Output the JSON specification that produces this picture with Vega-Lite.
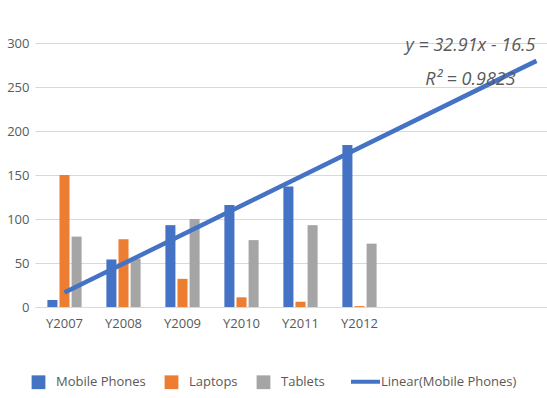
{
  "$schema": "https://vega.github.io/schema/vega-lite/v6.json",
  "autosize": {"type": "none"},
  "padding": {"left": 35, "top": 43, "right": 0, "bottom": 91},
  "width": 531,
  "height": 264,
  "background": "white",
  "config": {
    "view": {"stroke": null},
    "font": "Open Sans",
    "axis": {"labelFont": "Open Sans", "labelFontSize": 13, "labelColor": "#595959", "ticks": false, "domain": false, "gridColor": "#D9D9D9", "gridWidth": 1, "title": null}
  },
  "datasets": {
    "bars": [
      {"year": "Y2007", "series": "Mobile Phones", "value": 8},
      {"year": "Y2007", "series": "Laptops", "value": 150},
      {"year": "Y2007", "series": "Tablets", "value": 80},
      {"year": "Y2008", "series": "Mobile Phones", "value": 54},
      {"year": "Y2008", "series": "Laptops", "value": 77},
      {"year": "Y2008", "series": "Tablets", "value": 55},
      {"year": "Y2009", "series": "Mobile Phones", "value": 93},
      {"year": "Y2009", "series": "Laptops", "value": 32},
      {"year": "Y2009", "series": "Tablets", "value": 100},
      {"year": "Y2010", "series": "Mobile Phones", "value": 116},
      {"year": "Y2010", "series": "Laptops", "value": 11},
      {"year": "Y2010", "series": "Tablets", "value": 76},
      {"year": "Y2011", "series": "Mobile Phones", "value": 137},
      {"year": "Y2011", "series": "Laptops", "value": 6},
      {"year": "Y2011", "series": "Tablets", "value": 93},
      {"year": "Y2012", "series": "Mobile Phones", "value": 184},
      {"year": "Y2012", "series": "Laptops", "value": 1},
      {"year": "Y2012", "series": "Tablets", "value": 72}
    ],
    "trend": [
      {"year": "Y2007", "series": "Linear(Mobile Phones)", "value": 16.41},
      {"year": "Y2015", "series": "Linear(Mobile Phones)", "value": 279.69}
    ],
    "notes": [
      {"year": "Y2014", "value": 296.5, "t": "y = 32.91x - 16.5"},
      {"year": "Y2014", "value": 258, "t": "R² = 0.9823"}
    ]
  },
  "encoding": {
    "x": {
      "field": "year", "type": "nominal",
      "scale": {"domain": ["Y2007", "Y2008", "Y2009", "Y2010", "Y2011", "Y2012", "Y2013", "Y2014", "Y2015"], "paddingInner": 0.42, "paddingOuter": 0.21},
      "axis": {"labelAngle": 0, "grid": false, "domain": true, "domainColor": "#D9D9D9", "labelPadding": 10,
               "labelExpr": "indexof(['Y2013','Y2014','Y2015'], datum.value) >= 0 ? '' : datum.value"}
    },
    "y": {
      "field": "value", "type": "quantitative",
      "scale": {"domain": [0, 300], "nice": false},
      "axis": {"values": [0, 50, 100, 150, 200, 250, 300], "grid": true, "labelPadding": 6}
    }
  },
  "layer": [
    {
      "data": {"name": "bars"},
      "mark": {"type": "bar"},
      "encoding": {
        "xOffset": {"field": "series", "type": "nominal", "sort": ["Mobile Phones", "Laptops", "Tablets"], "scale": {"paddingInner": 0.17, "paddingOuter": 0}},
        "color": {
          "field": "series", "type": "nominal",
          "scale": {"domain": ["Mobile Phones", "Laptops", "Tablets", "Linear(Mobile Phones)"], "range": ["#4472C4", "#ED7D31", "#A5A5A5", "#4472C4"]},
          "legend": {
            "orient": "none", "legendX": -3, "legendY": 332, "direction": "horizontal", "title": null,
            "labelFont": "Open Sans", "labelFontSize": 13, "labelColor": "#595959",
            "columnPadding": 18, "labelOffset": 11, "symbolSize": 190, "symbolType": "square",
            "encode": {
              "symbols": {
                "update": {
                  "shape": {"signal": "datum.value == 'Linear(Mobile Phones)' ? 'stroke' : 'square'"},
                  "size": {"signal": "datum.value == 'Linear(Mobile Phones)' ? 841 : 190"},
                  "strokeWidth": {"signal": "datum.value == 'Linear(Mobile Phones)' ? 4 : 0"},
                  "stroke": {"signal": "scale('color', datum.value)"},
                  "fill": {"signal": "scale('color', datum.value)"},
                  "opacity": {"value": 1},
                  "fillOpacity": {"value": 1},
                  "strokeOpacity": {"value": 1}
                }
              },
              "labels": {
                "update": {
                  "dx": {"signal": "datum.value == 'Linear(Mobile Phones)' ? -2 : 0"}
                }
              }
            }
          }
        }
      }
    },
    {
      "data": {"name": "trend"},
      "mark": {"type": "line", "strokeWidth": 4.5},
      "encoding": {
        "color": {"field": "series", "type": "nominal"}
      }
    },
    {
      "data": {"name": "notes"},
      "mark": {"type": "text", "font": "Open Sans", "fontStyle": "italic", "fontSize": 18, "color": "#595959", "dx": -7, "baseline": "middle", "align": "center"},
      "encoding": {
        "text": {"field": "t"}
      }
    }
  ]
}
